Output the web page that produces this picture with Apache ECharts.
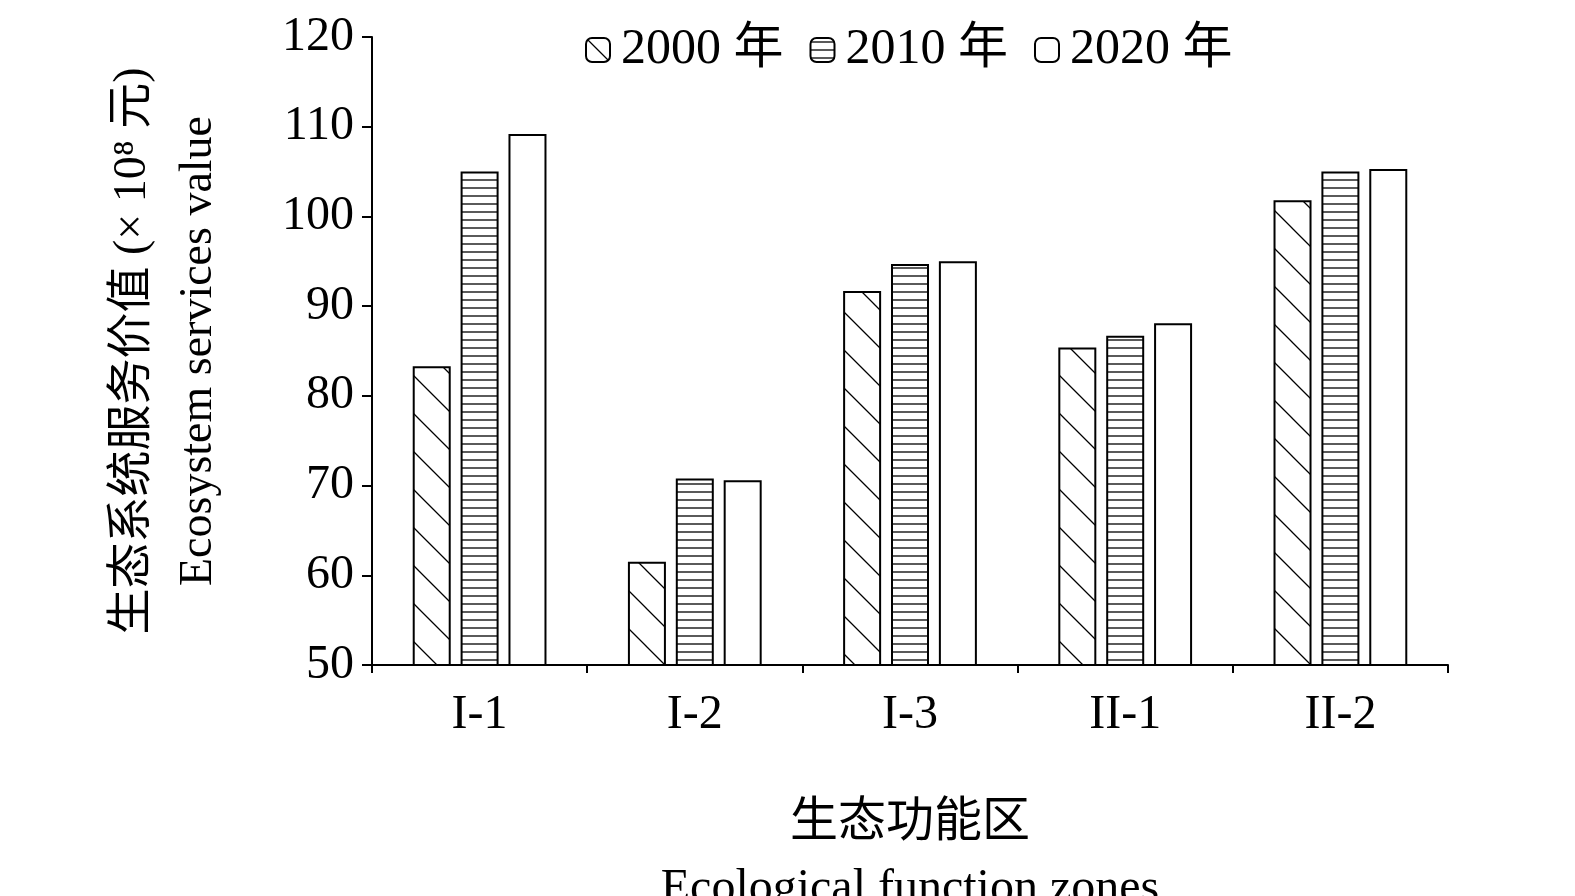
<!DOCTYPE html>
<html><head><meta charset="utf-8">
<script src="https://cdn.jsdelivr.net/npm/echarts@6/dist/echarts.min.js"></script>
<style>html,body{margin:0;background:#fff}#c{width:1575px;height:896px}</style>
</head><body><div id="c"></div>
<script>
const zones = ['I-1', 'I-2', 'I-3', 'II-1', 'II-2'];
const years = ['2000 年', '2010 年', '2020 年'];
const v2000 = [83.3, 61.5, 91.7, 85.4, 101.8];
const v2010 = [105.0, 70.8, 94.7, 86.7, 105.0];
const v2020 = [109.2, 70.6, 95.0, 88.1, 105.3];
const yTicks = [50, 60, 70, 80, 90, 100, 110, 120];

function pattern(kind) {
  const c = document.createElement('canvas');
  const s = kind === 'diag' ? 38 : 8;
  c.width = s; c.height = s;
  const g = c.getContext('2d');
  g.fillStyle = '#fff'; g.fillRect(0, 0, s, s);
  g.strokeStyle = '#000'; g.lineWidth = 1.3;
  g.beginPath();
  if (kind === 'diag') {
    g.moveTo(0, 0); g.lineTo(s, s);
    g.moveTo(-s, 0); g.lineTo(s, 2 * s);
    g.moveTo(0, -s); g.lineTo(2 * s, s);
  } else if (kind === 'horiz') {
    g.moveTo(0, 4); g.lineTo(s, 4);
  }
  g.stroke();
  return { image: c, repeat: 'repeat' };
}
const fills = [pattern('diag'), pattern('horiz'), '#fff'];
const serif = '"Liberation Serif","Noto Sans CJK SC",serif';

const chart = echarts.init(document.getElementById('c'));
chart.setOption({
  animation: false,
  textStyle: { fontFamily: serif, color: '#000' },
  grid: { left: 372, right: 127, top: 37, bottom: 231, containLabel: false, outerBoundsMode: 'none' },
  legend: {
    top: 20, left: 580, itemWidth: 24, itemHeight: 24, itemGap: 26,
    textStyle: { fontSize: 50, fontFamily: serif, color: '#000', padding: [0, 0, 0, 6] },
    data: years
  },
  xAxis: {
    type: 'category', data: zones,
    axisLine: { lineStyle: { color: '#000', width: 2 } },
    axisTick: { show: true, length: 8, lineStyle: { color: '#000', width: 2 } },
    axisLabel: { fontSize: 48, margin: 26, color: '#000', fontFamily: serif },
    name: '生态功能区\nEcological function zones', nameLocation: 'middle', nameGap: 125,
    nameTextStyle: { fontSize: 48, lineHeight: 66, color: '#000', fontFamily: serif }
  },
  yAxis: {
    type: 'value', min: 50, max: 120, interval: 10,
    axisLine: { show: true, lineStyle: { color: '#000', width: 2 } },
    axisTick: { show: true, length: 10, lineStyle: { color: '#000', width: 2 } },
    splitLine: { show: false },
    axisLabel: { fontSize: 48, margin: 18, color: '#000', fontFamily: serif,
      formatter: v => yTicks.includes(v) ? String(v) : '' },
    name: '生态系统服务价值 (× 10⁸ 元)\nEcosystem services value', nameLocation: 'middle', nameGap: 140,
    nameRotate: 90,
    nameTextStyle: { fontSize: 46, lineHeight: 66, color: '#000', fontFamily: serif }
  },
  series: [v2000, v2010, v2020].map((d, i) => ({
    name: years[i], type: 'bar', data: d, barWidth: 38, barGap: '26%',
    itemStyle: { color: fills[i], borderColor: '#000', borderWidth: 2 }
  }))
});
</script></body></html>
